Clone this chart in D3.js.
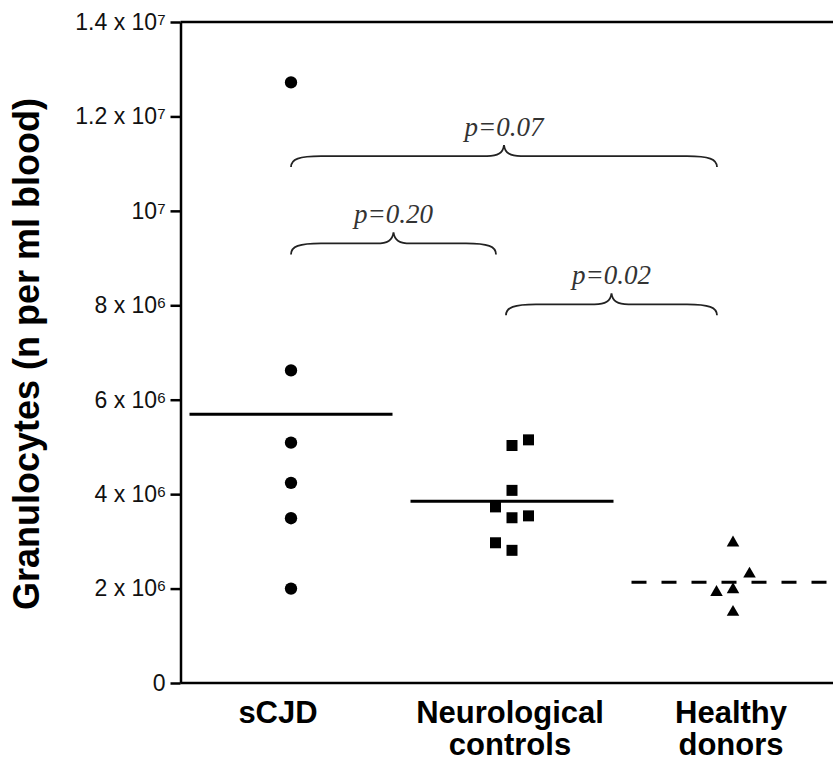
<!DOCTYPE html>
<html>
<head>
<meta charset="utf-8">
<script src="https://cdn.jsdelivr.net/npm/d3@7"></script>
<style>
  body { margin: 0; background: #fff; }
  svg { display: block; }
</style>
</head>
<body>
<svg id="chart" width="833" height="762"></svg>
<script>
// groups on the x axis
const groups = ['sCJD', 'Neurological controls', 'Healthy donors'];
const groupLines = [['sCJD'], ['Neurological', 'controls'], ['Healthy', 'donors']];

// individual patients (granulocytes per ml blood), column = side-by-side slot
const scjdValues = [12.72e6, 6.62e6, 5.09e6, 4.24e6, 3.49e6, 2.00e6];
const scjdCols = [0, 0, 0, 0, 0, 0];
const neuroValues = [5.03e6, 5.15e6, 4.08e6, 3.73e6, 3.50e6, 3.54e6, 2.97e6, 2.81e6];
const neuroCols = [0, 1, 0, -1, 0, 1, -1, 0];
const healthyValues = [2.97e6, 2.31e6, 1.92e6, 1.98e6, 1.50e6];
const healthyCols = [0, 1, -1, 0, 0];

const yTicks = [0, 2e6, 4e6, 6e6, 8e6, 1e7, 1.2e7, 1.4e7];

// pairwise comparisons
const pFrom = [0, 0, 1];
const pTo = [2, 1, 2];
const pLevel = [11.16e6, 9.31e6, 8.02e6];
const pLabels = ['p=0.07', 'p=0.20', 'p=0.02'];

const width = 833, height = 762;
const svg = d3.select('#chart');

const x = d3.scaleBand().domain(groups).range([180.5, 843.5]);
const y = d3.scaleLinear().domain([0, 1.4e7]).range([683, 22]);
const cx = i => x(groups[i]) + x.bandwidth() / 2;
const slot = 16.5;

// y axis
const yAxis = svg.append('g')
    .attr('transform', `translate(${x.range()[0]},0)`)
    .call(d3.axisLeft(y).tickValues(yTicks).tickSize(10).tickSizeOuter(0).tickPadding(5));
yAxis.select('.domain').attr('stroke-width', 2.5);
yAxis.selectAll('.tick line').attr('stroke-width', 2.5);
yAxis.selectAll('.tick text')
    .style('font-family', '"Liberation Sans", Arial, sans-serif')
    .style('font-size', '23px')
    .attr('fill', '#111')
    .each(function (v) {
        const t = d3.select(this).text(null);
        if (v === 0) { t.text('0'); return; }
        const e = Math.floor(Math.log10(v) + 1e-9);
        const m = +(v / 10 ** e).toFixed(1);
        t.append('tspan').text(m === 1 ? '10' : `${m} x 10`);
        t.append('tspan').attr('dy', -5).style('font-size', '15px').text(e);
    });

// top frame and bottom axis lines
svg.append('line')
    .attr('x1', x.range()[0]).attr('x2', width)
    .attr('y1', y(1.4e7)).attr('y2', y(1.4e7))
    .attr('stroke', '#000').attr('stroke-width', 2.5);
svg.append('line')
    .attr('x1', x.range()[0]).attr('x2', width)
    .attr('y1', y(0)).attr('y2', y(0))
    .attr('stroke', '#000').attr('stroke-width', 2.5);

// x axis labels (first label sits a little left of its column in the original)
const labelShift = [-13, -2, -2];
const xAxis = svg.append('g')
    .attr('transform', `translate(0,${y(0)})`)
    .call(d3.axisBottom(x).tickSize(0));
xAxis.select('.domain').remove();
xAxis.selectAll('.tick text')
    .style('font-family', '"Liberation Sans", Arial, sans-serif')
    .style('font-size', '31px')
    .style('font-weight', 'bold')
    .attr('fill', '#000')
    .attr('y', 0).attr('dy', null)
    .each(function (d, i) {
        const t = d3.select(this).text(null);
        groupLines[i].forEach((line, j) => {
            t.append('tspan').attr('x', labelShift[i]).attr('y', 40 + j * 32).text(line);
        });
    });

// y axis title
svg.append('text')
    .attr('transform', `translate(39, 354) rotate(-90)`)
    .attr('text-anchor', 'middle')
    .style('font-family', '"Liberation Sans", Arial, sans-serif')
    .style('font-size', '36px')
    .style('font-weight', 'bold')
    .text('Granulocytes (n per ml blood)');

// points
const sets = [
    { vals: scjdValues, cols: scjdCols, type: d3.symbolCircle, size: 120 },
    { vals: neuroValues, cols: neuroCols, type: d3.symbolSquare, size: 121 },
    { vals: healthyValues, cols: healthyCols, type: d3.symbolTriangle, size: 68 }
];
sets.forEach((s, gi) => {
    svg.append('g')
        .selectAll('path')
        .data(s.vals)
        .join('path')
        .attr('d', d3.symbol().type(s.type).size(s.size))
        .attr('transform', (d, i) => `translate(${cx(gi) + s.cols[i] * slot},${y(d)})`)
        .attr('fill', '#000');
});

// mean lines
sets.forEach((s, gi) => {
    const m = d3.mean(s.vals);
    svg.append('line')
        .attr('x1', x(groups[gi]) + 9)
        .attr('x2', x(groups[gi]) + x.bandwidth() - 9)
        .attr('y1', y(m)).attr('y2', y(m))
        .attr('stroke', '#000')
        .attr('stroke-width', 3)
        .attr('stroke-dasharray', gi === 2 ? '15,15' : null);
});

// curly brackets with p values
function brace(x1, x2, yy, h) {
    const mid = (x1 + x2) / 2;
    return `M${x1},${yy + h}` +
        `C${x1},${yy + 3} ${x1 + 8},${yy} ${x1 + 30},${yy}` +
        `L${mid - 17},${yy}` +
        `C${mid - 6},${yy} ${mid - 1},${yy - 3} ${mid},${yy - h}` +
        `C${mid + 1},${yy - 3} ${mid + 6},${yy} ${mid + 17},${yy}` +
        `L${x2 - 30},${yy}` +
        `C${x2 - 8},${yy} ${x2},${yy + 3} ${x2},${yy + h}`;
}
pLabels.forEach((lab, i) => {
    const x1 = cx(pFrom[i]) - (pFrom[i] === 0 ? 0 : 6);
    const x2 = cx(pTo[i]) - 16;
    const yy = y(pLevel[i]);
    svg.append('path')
        .attr('d', brace(x1, x2, yy, 11))
        .attr('fill', 'none')
        .attr('stroke', '#222')
        .attr('stroke-width', 1.8);
    svg.append('text')
        .attr('x', (x1 + x2) / 2)
        .attr('y', yy - 20)
        .attr('text-anchor', 'middle')
        .style('font-family', '"Liberation Serif", "Times New Roman", serif')
        .style('font-style', 'italic')
        .style('font-size', '27px')
        .attr('fill', '#333')
        .text(lab);
});
</script>
</body>
</html>
